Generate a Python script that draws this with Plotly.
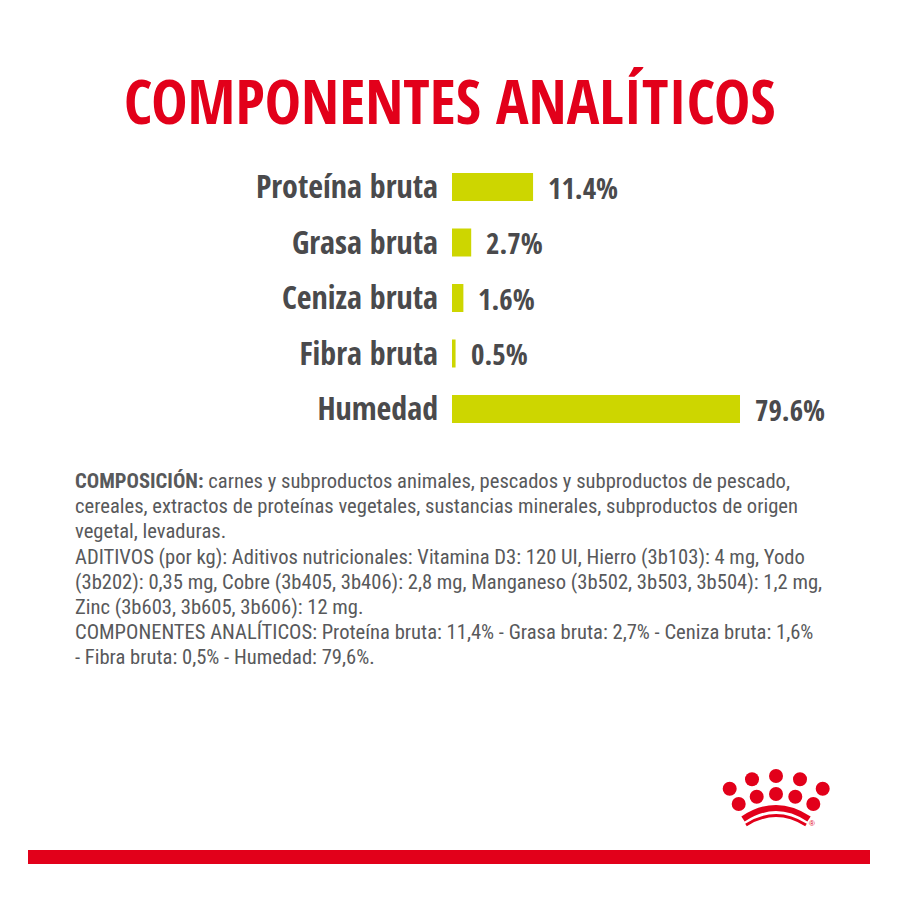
import plotly.graph_objects as go

categories = ['Proteína bruta', 'Grasa bruta', 'Ceniza bruta', 'Fibra bruta', 'Humedad']
values = [11.4, 2.7, 1.6, 0.5, 79.6]
value_labels = ['11.4%', '2.7%', '1.6%', '0.5%', '79.6%']

title_text = 'COMPONENTES ANALÍTICOS'
body_lines = [
    '<b>COMPOSICIÓN:</b> carnes y subproductos animales, pescados y subproductos de pescado,',
    'cereales, extractos de proteínas vegetales, sustancias minerales, subproductos de origen',
    'vegetal, levaduras.',
    'ADITIVOS (por kg): Aditivos nutricionales: Vitamina D3: 120 UI, Hierro (3b103): 4 mg, Yodo',
    '(3b202): 0,35 mg, Cobre (3b405, 3b406): 2,8 mg, Manganeso (3b502, 3b503, 3b504): 1,2 mg,',
    'Zinc (3b603, 3b605, 3b606): 12 mg.',
    'COMPONENTES ANALÍTICOS: Proteína bruta: 11,4% - Grasa bruta: 2,7% - Ceniza bruta: 1,6%',
    '- Fibra bruta: 0,5% - Humedad: 79,6%.',
]

# the picture does not draw the long bar to scale, it just stops at the axis end
axis_max = 40.5

RED = '#e2001a'
GREEN = '#cdd600'
DARK = '#4a4a4c'
FONT = 'Roboto Condensed'
FONT_HEAD = 'Open Sans Condensed'


# picture pixels to paper coordinates
def px(x):
    return x / 900

def py(y):
    return 1 - y / 900


fig = go.Figure(go.Bar(
    x=values, y=categories, orientation='h',
    marker=dict(color=GREEN, line_width=0),
    hoverinfo='skip',
))

annotations = [dict(
    text='<b>%s</b>' % title_text, xref='paper', yref='paper', x=px(450), y=py(100),
    yanchor='middle', showarrow=False, font=dict(family=FONT_HEAD, size=61, color=RED),
)]

# value labels sit just after the visible end of each bar
for cat, val, lab in zip(categories, values, value_labels):
    annotations.append(dict(
        text='<b>%s</b>' % lab, xref='x', yref='y', x=min(val, axis_max), y=cat,
        xanchor='left', yanchor='middle', xshift=13, showarrow=False,
        font=dict(family=FONT_HEAD, size=29, color=DARK),
    ))

for i, line in enumerate(body_lines):
    annotations.append(dict(
        text=line, xref='paper', yref='paper', x=px(73), y=py(481 + i * 25.2),
        xanchor='left', yanchor='middle', showarrow=False,
        font=dict(family=FONT, size=20.6, color='#58595b'),
    ))

annotations.append(dict(
    text='®', xref='paper', yref='paper', x=px(817), y=py(823), yanchor='middle',
    showarrow=False, font=dict(family='Liberation Sans', size=8, color=RED),
))

# bottom band
shapes = [dict(type='rect', xref='paper', yref='paper', x0=px(28), x1=px(870),
               y0=py(864), y1=py(850), fillcolor=RED, line_width=0)]

# crown logo
crown = [(729.7, 788.7), (752, 779.3), (776, 776), (800, 779.3), (822.7, 788.7),
         (738.7, 804), (756.7, 796.7), (776, 794), (795.3, 796.7), (813.3, 804)]
for cx, cy in crown:
    shapes.append(dict(type='circle', xref='paper', yref='paper',
                       x0=px(cx - 7), x1=px(cx + 7), y0=py(cy + 7), y1=py(cy - 7),
                       fillcolor=RED, line_width=0))

for x0, x1, y_end, y_ctrl, w in [(743, 809, 819, 797, 6), (746, 806, 825, 806, 3)]:
    path = 'M %f,%f Q %f,%f %f,%f' % (px(x0), py(y_end), px((x0 + x1) / 2), py(y_ctrl), px(x1), py(y_end))
    shapes.append(dict(type='path', xref='paper', yref='paper', path=path,
                       line=dict(color=RED, width=w)))

fig.update_layout(
    width=900, height=900,
    margin=dict(l=0, r=0, t=0, b=0),
    paper_bgcolor='white', plot_bgcolor='white',
    showlegend=False, bargap=0.495,
    annotations=annotations, shapes=shapes,
    xaxis=dict(domain=[px(452), px(740)], range=[0, axis_max], visible=False),
    yaxis=dict(
        domain=[py(436.75), py(159.25)], range=[4.5, -0.5],
        showgrid=False, showline=False, zeroline=False, ticks='',
        ticklabelstandoff=13, automargin=False,
        tickprefix='<b>', ticksuffix='</b>',
        tickfont=dict(family=FONT_HEAD, size=32, color=DARK),
    ),
)

fig.write_html("out.html", config={'displayModeBar': False},
               post_script="document.body.style.margin='0'")
